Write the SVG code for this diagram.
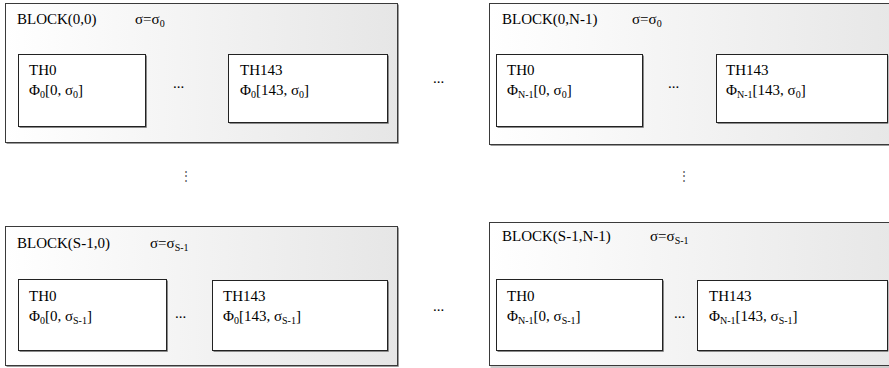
<svg xmlns="http://www.w3.org/2000/svg" width="889" height="368" viewBox="0 0 889 368" font-family="'Liberation Serif', 'Times New Roman', 'DejaVu Serif', serif">
<defs>
<linearGradient id="bg" x1="0" y1="0" x2="1" y2="0">
<stop offset="0" stop-color="#ffffff"/>
<stop offset="1" stop-color="#e6e6e6"/>
</linearGradient>
<style>
text{font-family:'Liberation Serif','Times New Roman','DejaVu Serif',serif;font-size:15px;fill:#000}
.sub{font-size:10px}
.blk{fill:url(#bg);stroke:#3a3a3a;stroke-width:1}
.blksh{fill:none;stroke:#9a9a9a;stroke-width:1}
.th{fill:#fff;stroke:#222;stroke-width:1}
.thsh{fill:none;stroke:#8a8a8a;stroke-width:1}
.dots{font-size:12px;fill:#555}
</style>
</defs>
<rect width="889" height="368" fill="#fff"/>

<g id="block-0-0">
<polyline class="blksh" points="398.5,4.5 398.5,143.5 6.5,143.5"/>
<rect class="blk" x="5.5" y="3.5" width="392" height="139"/>
<text x="17" y="24">BLOCK(0,0)</text>
<text x="135" y="24">σ=σ<tspan class="sub" dy="3">0</tspan></text>
<g id="b00-th0">
<polyline class="thsh" points="146.5,55.5 146.5,127.5 19.5,127.5"/>
<rect class="th" x="18.5" y="54.5" width="127" height="72"/>
<text x="29" y="75">TH0</text>
<text x="29" y="95">Φ<tspan class="sub" dy="3">0</tspan><tspan dy="-3">[0, σ</tspan><tspan class="sub" dy="3">0</tspan><tspan dy="-3">]</tspan></text>
</g>
<text x="173" y="88">...</text>
<g id="b00-th143">
<polyline class="thsh" points="388.5,55.5 388.5,123.5 229.5,123.5"/>
<rect class="th" x="228.5" y="54.5" width="159" height="68"/>
<text x="240" y="75">TH143</text>
<text x="240" y="95">Φ<tspan class="sub" dy="3">0</tspan><tspan dy="-3">[143, σ</tspan><tspan class="sub" dy="3">0</tspan><tspan dy="-3">]</tspan></text>
</g>
</g>

<g id="block-0-N1">
<polyline class="blksh" points="490.5,145.5 889,145.5"/>
<rect class="blk" x="489.5" y="3.5" width="420" height="141"/>
<text x="502" y="24">BLOCK(0,N-1)</text>
<text x="632" y="24">σ=σ<tspan class="sub" dy="3">0</tspan></text>
<g id="b0N-th0">
<polyline class="thsh" points="643.5,55.5 643.5,127.5 497.5,127.5"/>
<rect class="th" x="496.5" y="54.5" width="146" height="72"/>
<text x="507" y="75">TH0</text>
<text x="507" y="95">Φ<tspan class="sub" dy="3">N-1</tspan><tspan dy="-3">[0, σ</tspan><tspan class="sub" dy="3">0</tspan><tspan dy="-3">]</tspan></text>
</g>
<text x="668" y="88">...</text>
<g id="b0N-th143">
<polyline class="thsh" points="888,55.5 888,123.5 717.5,123.5"/>
<rect class="th" x="716.5" y="54.5" width="171" height="68"/>
<text x="726" y="75">TH143</text>
<text x="726" y="95">Φ<tspan class="sub" dy="3">N-1</tspan><tspan dy="-3">[143, σ</tspan><tspan class="sub" dy="3">0</tspan><tspan dy="-3">]</tspan></text>
</g>
</g>

<g id="block-S1-0">
<polyline class="blksh" points="398.5,227.5 398.5,366.5 6.5,366.5"/>
<rect class="blk" x="5.5" y="226.5" width="392" height="139"/>
<text x="17" y="248">BLOCK(S-1,0)</text>
<text x="150" y="248">σ=σ<tspan class="sub" dy="3">S-1</tspan></text>
<g id="bS0-th0">
<polyline class="thsh" points="167.5,280.5 167.5,351.5 19.5,351.5"/>
<rect class="th" x="18.5" y="279.5" width="148" height="71"/>
<text x="29" y="301">TH0</text>
<text x="29" y="321">Φ<tspan class="sub" dy="3">0</tspan><tspan dy="-3">[0, σ</tspan><tspan class="sub" dy="3">S-1</tspan><tspan dy="-3">]</tspan></text>
</g>
<text x="175" y="318">...</text>
<g id="bS0-th143">
<polyline class="thsh" points="388.5,281.5 388.5,351.5 213.5,351.5"/>
<rect class="th" x="212.5" y="280.5" width="175" height="70"/>
<text x="223" y="301">TH143</text>
<text x="223" y="321">Φ<tspan class="sub" dy="3">0</tspan><tspan dy="-3">[143, σ</tspan><tspan class="sub" dy="3">S-1</tspan><tspan dy="-3">]</tspan></text>
</g>
</g>

<g id="block-S1-N1">
<polyline class="blksh" points="490.5,367 889,367"/>
<rect class="blk" x="489.5" y="222.5" width="420" height="143"/>
<text x="502" y="241">BLOCK(S-1,N-1)</text>
<text x="650" y="241">σ=σ<tspan class="sub" dy="3">S-1</tspan></text>
<g id="bSN-th0">
<polyline class="thsh" points="663.5,280.5 663.5,351.5 497.5,351.5"/>
<rect class="th" x="496.5" y="279.5" width="166" height="71"/>
<text x="507" y="301">TH0</text>
<text x="507" y="321">Φ<tspan class="sub" dy="3">N-1</tspan><tspan dy="-3">[0, σ</tspan><tspan class="sub" dy="3">S-1</tspan><tspan dy="-3">]</tspan></text>
</g>
<text x="674" y="318">...</text>
<g id="bSN-th143">
<polyline class="thsh" points="888,281.5 888,351.5 698.5,351.5"/>
<rect class="th" x="697.5" y="280.5" width="190" height="70"/>
<text x="709" y="301">TH143</text>
<text x="709" y="321">Φ<tspan class="sub" dy="3">N-1</tspan><tspan dy="-3">[143, σ</tspan><tspan class="sub" dy="3">S-1</tspan><tspan dy="-3">]</tspan></text>
</g>
</g>

<g id="ellipses">
<text x="433" y="83">...</text>
<text x="433" y="311">...</text>
<text class="dots" x="180" y="180">⋮</text>
<text class="dots" x="678" y="180">⋮</text>
</g>
<g id="connectors"/>
</svg>
